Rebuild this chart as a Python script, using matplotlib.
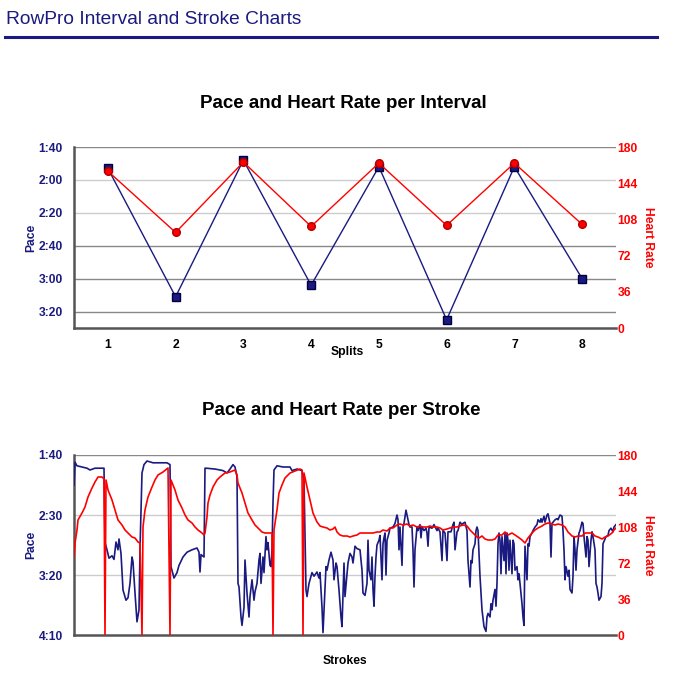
# RowPro interval and stroke charts: pace (navy, inverted mm:ss axis) and heart rate (red, right axis)
import matplotlib
matplotlib.use('Agg')
import matplotlib.pyplot as plt
from matplotlib.ticker import FuncFormatter
from matplotlib.lines import Line2D

plt.rcParams['font.family'] = ['Liberation Sans', 'DejaVu Sans']

NAVY = '#1a1a80'
RED = '#ff0000'

# ---- interval data (pace in seconds per 500m, heart rate in bpm) ----
splits = [1, 2, 3, 4, 5, 6, 7, 8]
split_pace = [113, 191, 108, 184, 112, 205, 112, 180]
split_hr = [156, 95, 165, 101, 164, 102, 164, 103]

# ---- stroke data ----
stroke_n = [0, 1, 3, 8, 13, 16, 21, 26, 30, 31, 33, 35, 38, 40, 42, 44, 45, 47, 49, 52,
            54, 56, 58, 59, 61, 63, 65, 66, 68, 70, 73, 79, 86, 93, 96, 97, 100, 103, 105, 109,
            113, 118, 123, 125, 126, 127, 130, 131, 132, 141, 149, 153, 156, 159, 161, 163, 164, 165, 167, 168,
            170, 171, 173, 175, 176, 178, 180, 181, 183, 185, 186, 187, 189, 190, 192, 193, 194, 196, 197, 198,
            199, 200, 203, 209, 216, 218, 223, 228, 230, 232, 233, 235, 238, 240, 243, 245, 246, 248, 249, 251,
            252, 253, 255, 257, 259, 260, 262, 263, 265, 267, 268, 270, 271, 273, 274, 276, 278, 279, 281, 283,
            286, 288, 289, 291, 293, 294, 295, 297, 298, 299, 300, 301, 302, 303, 305, 306, 308, 309, 310, 311,
            312, 313, 315, 316, 319, 321, 323, 324, 325, 326, 328, 329, 330, 332, 333, 335, 336, 338, 339, 340,
            341, 343, 344, 346, 347, 348, 350, 352, 353, 354, 355, 358, 360, 363, 364, 366, 368, 369, 371, 373,
            374, 377, 379, 380, 381, 383, 384, 386, 388, 389, 391, 393, 394, 396, 397, 398, 399, 401, 402, 403,
            404, 406, 407, 408, 410, 412, 413, 414, 416, 417, 418, 419, 421, 422, 423, 424, 425, 426, 427, 428,
            430, 431, 432, 433, 434, 435, 436, 438, 439, 440, 441, 443, 444, 445, 446, 448, 449, 450, 451, 453,
            454, 455, 456, 458, 459, 461, 463, 464, 466, 467, 468, 470, 471, 473, 474, 476, 477, 478, 479, 481,
            483, 484, 486, 488, 489, 490, 491, 492, 494, 495, 496, 498, 499, 500, 501, 502, 503, 505, 506, 508,
            509, 510, 512, 513, 514, 515, 517, 518, 519, 521, 522, 523, 524, 525, 527, 528, 529, 530, 532, 534,
            535, 537, 539, 540, 542]
stroke_pace = [125, 106, 109, 110, 111, 112.5, 111, 111, 111, 173, 179, 186, 184, 187, 172.5, 179, 170, 182, 212.5, 221,
               219, 207, 185, 189, 215, 239, 229, 179, 115, 108, 105, 106.5, 106.5, 106.5, 108, 193, 202.5, 198, 192, 185,
               181, 179, 177.5, 181, 197.5, 183, 185, 111, 111, 111.7, 113, 115, 111.7, 108, 110, 118, 207, 210, 235, 242,
               227, 187.5, 215, 235, 218, 204, 221, 214, 207, 187.5, 182, 207, 185, 198, 168, 179, 173, 192, 193, 179,
               140, 112.5, 109, 110, 110, 113, 111.7, 113, 121, 212.5, 218, 207, 198, 201, 197.5, 202.5, 198, 227, 248, 210,
               193, 196, 187.5, 181, 187.5, 204, 190, 193, 212.5, 235, 243, 190, 218, 199, 190, 182, 185, 190, 176, 178,
               179, 196, 215, 217, 207, 171, 196, 204, 185, 212, 226, 201, 185, 175, 171, 167, 204, 174, 169, 165,
               200, 171, 165, 161, 160, 157, 150, 154, 179, 160, 192, 160, 157, 146, 150, 158, 160, 160, 179, 210,
               179, 160, 163, 158, 169, 160, 163, 161, 165, 176, 160, 161, 158, 163, 161, 164, 188, 163, 165, 188,
               164, 164, 158, 156, 179, 164, 163, 156, 158, 157, 156, 163, 188, 210, 188, 190, 179, 174, 163, 160,
               163, 201, 215, 229, 243, 247, 235, 232, 235, 224, 229, 221, 212, 226, 207, 174, 165, 171, 199, 168,
               188, 165, 199, 165, 171, 196, 171, 199, 171, 174, 196, 193, 204, 199, 207, 224, 235, 242, 176, 204,
               174, 176, 168, 165, 163, 160, 158, 154, 156, 153, 156, 151, 156, 150, 149, 157, 185, 157, 156, 154,
               153, 154, 150, 151, 163, 179, 204, 193, 201, 196, 212, 215, 201, 168, 179, 196, 179, 165, 163, 156,
               157, 168, 185, 168, 171, 193, 171, 164, 168, 179, 207, 210, 215, 221, 218, 207, 174, 172, 168, 167,
               163, 161, 164, 160, 158]

hr_n = [0, 1, 3, 4, 8, 11, 14, 18, 21, 24, 28, 30, 31, 32, 34, 38, 41, 44, 48, 51,
        54, 58, 61, 64, 66, 68, 69, 71, 74, 78, 81, 84, 89, 94, 96, 97, 101, 104, 108, 111,
        114, 118, 121, 124, 128, 130, 131, 133, 134, 136, 139, 143, 146, 151, 156, 161, 163, 164, 168, 171,
        174, 178, 181, 184, 188, 191, 194, 198, 199, 200, 203, 205, 208, 211, 216, 221, 226, 228, 229, 230,
        233, 236, 239, 243, 246, 249, 253, 256, 259, 261, 263, 266, 269, 273, 276, 279, 283, 286, 289, 293,
        296, 299, 303, 306, 309, 313, 316, 319, 323, 326, 329, 333, 336, 339, 343, 346, 349, 353, 356, 359,
        363, 366, 369, 373, 376, 379, 383, 386, 389, 393, 396, 399, 403, 405, 408, 411, 414, 418, 421, 424,
        428, 431, 434, 438, 441, 444, 448, 451, 454, 458, 461, 464, 468, 471, 474, 478, 481, 484, 488, 491,
        494, 498, 501, 504, 508, 511, 514, 518, 521, 524, 528, 531, 534, 538, 540, 542]
hr_vals = [78, 92, 105, 115, 122, 128, 138, 147, 153, 158, 158, 156, 0, 155, 145, 135, 125, 115, 110, 105,
           102, 98, 97, 93, 92, 0, 108, 125, 138, 148, 155, 160, 163, 167, 0, 155, 145, 135, 127, 120,
           115, 112, 108, 105, 102, 100, 102, 118, 132, 140, 148, 155, 158, 162, 163, 165, 160, 152, 142, 132,
           122, 115, 110, 107, 103, 102, 102, 102, 0, 105, 125, 142, 150, 157, 162, 164, 166, 165, 0, 162,
           148, 135, 122, 113, 109, 108, 107, 105, 106, 108, 103, 100, 99, 99, 98, 99, 100, 102, 102, 102,
           102, 102, 103, 103, 105, 104, 107, 107, 110, 111, 110, 111, 109, 110, 108, 109, 108, 108, 109, 108,
           108, 107, 105, 106, 107, 108, 108, 109, 110, 109, 105, 102, 98, 97, 99, 96, 95, 95, 96, 100,
           100, 103, 100, 102, 100, 98, 95, 92, 97, 102, 105, 107, 109, 111, 112, 111, 110, 111, 110, 108,
           103, 99, 98, 99, 99, 102, 102, 102, 99, 98, 96, 98, 99, 102, 105, 107]


def mmss(v, pos):
    v = int(round(v))
    return '%d:%02d' % (v // 60, v % 60)


W, H = 676, 694
fig = plt.figure(figsize=(W / 100, H / 100), dpi=100)


def fx(px):
    return px / W


def fy(py):
    return 1 - py / H


# page header
fig.text(fx(6), fy(19), 'RowPro Interval and Stroke Charts', color=NAVY, fontsize=13.8,
         ha='left', va='center')
fig.add_artist(Line2D([fx(5), fx(657)], [fy(37), fy(37)], color=NAVY, lw=2.2))


def style_axes(ax, ax2, pace_ticks, pace_lim, light, dark):
    ax.set_xlim(pace_lim[0])
    ax.set_ylim(pace_lim[1])
    ax.set_yticks(pace_ticks)
    ax.yaxis.set_major_formatter(FuncFormatter(mmss))
    for s in ['top', 'right']:
        ax.spines[s].set_visible(False)
    for s in ['left', 'bottom']:
        ax.spines[s].set_color('#555555')
        ax.spines[s].set_linewidth(1.8)
    for s in ax2.spines:
        ax2.spines[s].set_visible(False)
    for v in light:
        ax.axhline(v, color='#cccccc', lw=1, zorder=0)
    for v in dark:
        ax.axhline(v, color='#888888', lw=1, zorder=0)
    ax.tick_params(axis='y', length=0, pad=8, labelcolor=NAVY, labelsize=8.7)
    for t in ax.get_yticklabels():
        t.set_fontweight('bold')
    ax2.set_ylim(0, 180)
    ax2.set_yticks([0, 36, 72, 108, 144, 180])
    ax2.tick_params(axis='y', length=0, pad=1, labelcolor=RED, labelsize=8.7)
    for t in ax2.get_yticklabels():
        t.set_fontweight('bold')
    ax.set_ylabel('Pace', color=NAVY, fontsize=8.7, fontweight='bold', labelpad=1)
    ax2.set_ylabel('Heart Rate', color=RED, fontsize=8.7, fontweight='bold',
                   rotation=270, labelpad=12)


# ---- top chart: per interval ----
ax1 = fig.add_axes([fx(74), fy(328), fx(616) - fx(74), fy(147) - fy(328)])
ax1.patch.set_alpha(0)
ax1b = ax1.twinx()
ax1.plot(splits, split_pace, color=NAVY, lw=1, marker='s', ms=5.5,
         mfc=NAVY, mec='#000040', zorder=3)
ax1b.plot(splits, split_hr, color=RED, lw=1, marker='o', ms=5.5,
          mfc=RED, mec='#b00000', zorder=3)
style_axes(ax1, ax1b, [100, 120, 140, 160, 180, 200], ((0.5, 8.5), (210, 100)),
           [120, 140], [100, 160, 180, 200])
ax1.set_xticks(splits)
ax1.tick_params(axis='x', length=0, pad=8, labelsize=8.7)
for t in ax1.get_xticklabels():
    t.set_fontweight('bold')
fig.text(fx(343), fy(103), 'Pace and Heart Rate per Interval', fontsize=13.5,
         fontweight='bold', ha='center', va='center')
fig.text(fx(347), fy(352), 'Splits', fontsize=8.7, fontweight='bold',
         ha='center', va='center')

# ---- bottom chart: per stroke ----
ax2 = fig.add_axes([fx(74), fy(635), fx(616) - fx(74), fy(455) - fy(635)])
ax2.patch.set_alpha(0)
ax2b = ax2.twinx()
ax2.plot(stroke_n, stroke_pace, color=NAVY, lw=1.2, zorder=3)
ax2b.plot(hr_n, hr_vals, color=RED, lw=1.2, zorder=3)
style_axes(ax2, ax2b, [100, 150, 200, 250], ((0, 542), (250, 100)),
           [150, 200], [100])
ax2.set_xticks([])
fig.text(fx(341), fy(411), 'Pace and Heart Rate per Stroke', fontsize=13.5,
         fontweight='bold', ha='center', va='center')
fig.text(fx(345), fy(661), 'Strokes', fontsize=8.7, fontweight='bold',
         ha='center', va='center')

fig.savefig('out.png', dpi=100)
